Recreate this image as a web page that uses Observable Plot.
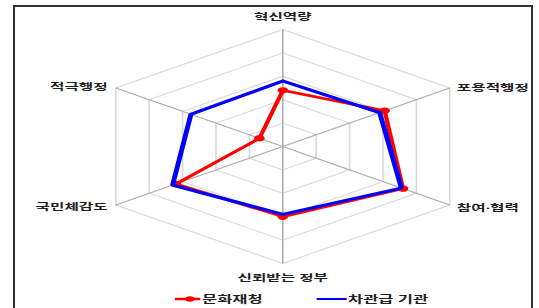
<!DOCTYPE html>
<html>
<head>
<meta charset="utf-8">
<script src="https://cdn.jsdelivr.net/npm/d3@7"></script>
<script src="https://cdn.jsdelivr.net/npm/@observablehq/plot@0.6"></script>
<style>
  html, body { margin: 0; padding: 0; background: #fff; }
  body { width: 539px; height: 308px; overflow: hidden; position: relative; font-family: "Noto Sans", "Noto Sans CJK KR", sans-serif; }
  #frame { position: absolute; left: 12.5px; top: 4.5px; width: 520px; height: 330px; border: 2px solid #333; border-bottom: none; box-sizing: border-box; }
  #wrap { position: absolute; left: 0; top: 0; width: 327px; height: 308px; transform: scaleX(1.648); transform-origin: 0 0; }
  #legend { position: absolute; left: 0; top: 290px; width: 327px; height: 18px; font-size: 10px; font-weight: bold; color: #222; }
  .item { position: absolute; top: 0; height: 18px; line-height: 18px; white-space: nowrap; }
  .sw { position: absolute; top: 4px; }
</style>
</head>
<body>
<div id="frame"></div>
<div id="wrap"></div>
<script>
// ---- data ----
const categories = ["혁신역량", "포용적행정", "참여·협력", "신뢰받는 정부", "국민체감도", "적극행정"];
const seriesNames = ["문화재청", "차관급 기관"];
const munhwa = [48, 61, 72, 60, 64, 14];      // 문화재청
const chagwan = [56, 58, 71, 58, 66, 55];     // 차관급 기관
const gridLevels = [20, 40, 60, 80, 100];
const maxValue = 100;
const seriesColors = ["#ff0000", "#0000ff"];

// ---- layout (unstretched coordinates, stretched by CSS scaleX) ----
const W = 327, H = 290;
const cx = 171.1, cy = 146, R = 117;

const n = categories.length;
const ang = i => (i % n) * 2 * Math.PI / n;
const px = (v, i) => v / maxValue * Math.sin(ang(i));
const py = (v, i) => v / maxValue * Math.cos(ang(i));

function seriesRows(name, values) {
  return categories.map((c, i) => ({series: name, cat: c, i, value: values[i]}));
}
const redRows = seriesRows(seriesNames[0], munhwa);
const blueRows = seriesRows(seriesNames[1], chagwan);
const closed = rows => rows.concat([rows[0]]);

const gridRows = [];
gridLevels.forEach(level => {
  for (let i = 0; i <= n; i++) gridRows.push({level, i});
});
const spokeRows = categories.map((c, i) => ({cat: c, i}));

const labelOffsets = [
  {anchor: "middle", dx: 0, dy: -12.5},
  {anchor: "start", dx: 4.3, dy: 0},
  {anchor: "start", dx: 4.3, dy: 2.5},
  {anchor: "middle", dx: 0, dy: 14.5},
  {anchor: "end", dx: -5, dy: 2},
  {anchor: "end", dx: -5, dy: -1}
];

const labelMarks = categories.map((c, i) => Plot.text([{cat: c, i}], {
  x: d => px(maxValue, d.i),
  y: d => py(maxValue, d.i),
  text: d => d.cat,
  textAnchor: labelOffsets[i].anchor,
  dx: labelOffsets[i].dx,
  dy: labelOffsets[i].dy,
  fontSize: 9.5,
  fontWeight: "bold",
  fill: "#222"
}));

const chart = Plot.plot({
  width: W,
  height: H,
  margin: 0,
  style: {fontFamily: "'Noto Sans', 'Noto Sans CJK KR', sans-serif", background: "transparent", overflow: "visible"},
  x: {type: "linear", domain: [-1, 1], range: [cx - R, cx + R], axis: null},
  y: {type: "linear", domain: [-1, 1], range: [cy + R, cy - R], axis: null},
  marks: [
    Plot.line(gridRows, {
      x: d => px(d.level, d.i), y: d => py(d.level, d.i), z: "level",
      stroke: "#d9d9d9", strokeWidth: 1
    }),
    Plot.link(spokeRows, {
      x1: d => 0, y1: d => 0,
      x2: d => px(maxValue, d.i), y2: d => py(maxValue, d.i),
      stroke: "#b0b0b0", strokeWidth: 1
    }),
    Plot.line(closed(redRows), {
      x: d => px(d.value, d.i), y: d => py(d.value, d.i),
      stroke: seriesColors[0], strokeWidth: 2.6, strokeLinejoin: "miter"
    }),
    Plot.dot(redRows, {
      x: d => px(d.value, d.i), y: d => py(d.value, d.i),
      r: 3.2, fill: seriesColors[0], stroke: "none"
    }),
    Plot.line(closed(blueRows), {
      x: d => px(d.value, d.i), y: d => py(d.value, d.i),
      stroke: seriesColors[1], strokeWidth: 3, strokeLinejoin: "miter"
    }),
    ...labelMarks
  ]
});

const wrap = document.getElementById("wrap");
wrap.appendChild(chart);

// ---- legend ----
const legend = document.createElement("div");
legend.id = "legend";
const legendLayout = [
  {swLeft: 106.2, swW: 15.5, textLeft: 122.6, dot: true},
  {swLeft: 192.4, swW: 18.4, textLeft: 211.2, dot: false}
];
seriesNames.forEach((name, k) => {
  const L = legendLayout[k];
  const sw = document.createElementNS("http://www.w3.org/2000/svg", "svg");
  sw.setAttribute("class", "sw");
  sw.setAttribute("width", L.swW);
  sw.setAttribute("height", 10);
  sw.style.left = L.swLeft + "px";
  const ln = document.createElementNS("http://www.w3.org/2000/svg", "line");
  ln.setAttribute("x1", 0); ln.setAttribute("x2", L.swW);
  ln.setAttribute("y1", 5); ln.setAttribute("y2", 5);
  ln.setAttribute("stroke", seriesColors[k]);
  ln.setAttribute("stroke-width", k === 0 ? 2.4 : 2.2);
  sw.appendChild(ln);
  if (L.dot) {
    const c = document.createElementNS("http://www.w3.org/2000/svg", "circle");
    c.setAttribute("cx", L.swW / 2 + 1.5); c.setAttribute("cy", 5); c.setAttribute("r", 2.8);
    c.setAttribute("fill", seriesColors[k]);
    sw.appendChild(c);
  }
  legend.appendChild(sw);
  const t = document.createElement("div");
  t.className = "item";
  t.style.left = L.textLeft + "px";
  t.textContent = name;
  legend.appendChild(t);
});
wrap.appendChild(legend);
</script>
</body>
</html>
